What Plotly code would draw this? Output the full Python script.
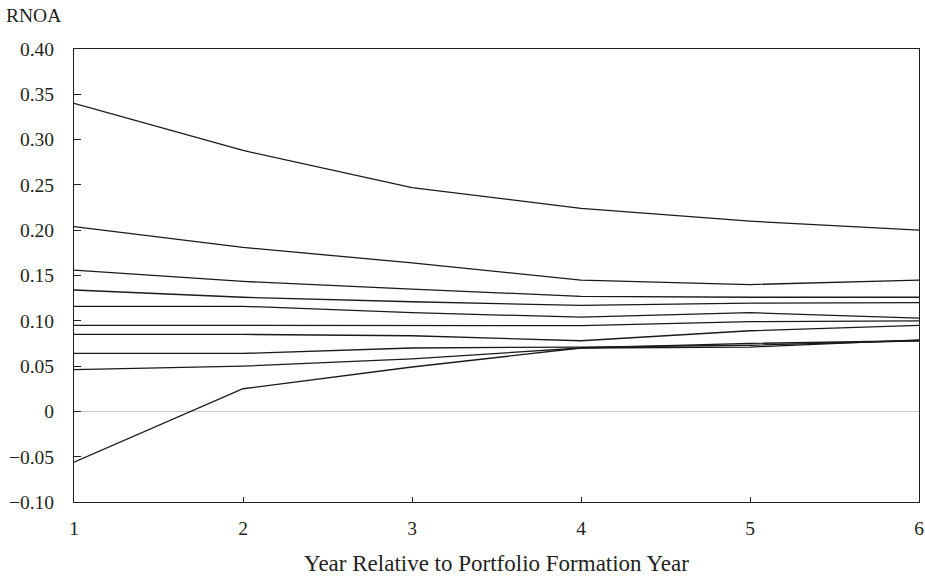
import plotly.graph_objects as go

years = [1, 2, 3, 4, 5, 6]
series = {
    "P10": [0.340, 0.288, 0.247, 0.224, 0.210, 0.200],
    "P9": [0.204, 0.181, 0.164, 0.145, 0.140, 0.145],
    "P8": [0.156, 0.1435, 0.135, 0.127, 0.126, 0.126],
    "P7": [0.134, 0.126, 0.121, 0.117, 0.1195, 0.120],
    "P6": [0.116, 0.116, 0.109, 0.104, 0.109, 0.103],
    "P5": [0.095, 0.095, 0.095, 0.0946, 0.099, 0.100],
    "P4": [0.085, 0.085, 0.0835, 0.078, 0.089, 0.095],
    "P3": [0.064, 0.064, 0.070, 0.071, 0.073, 0.078],
    "P2": [0.046, 0.050, 0.058, 0.070, 0.075, 0.078],
    "P1": [-0.056, 0.025, 0.049, 0.070, 0.071, 0.079],
}
ytick_vals = [0.40, 0.35, 0.30, 0.25, 0.20, 0.15, 0.10, 0.05, 0, -0.05, -0.10]
ytick_text = ["0.40", "0.35", "0.30", "0.25", "0.20", "0.15", "0.10", "0.05", "0", "\u22120.05", "\u22120.10"]

FONT = "Liberation Serif"
fig = go.Figure()
for name, vals in series.items():
    fig.add_trace(go.Scatter(x=years, y=vals, mode="lines", name=name,
                             line=dict(color="#1a1a1a", width=1.3), showlegend=False))

fig.update_layout(
    width=925, height=578,
    margin=dict(l=74, r=6, t=49, b=76),
    paper_bgcolor="white", plot_bgcolor="white",
    font=dict(family=FONT, size=19.5, color="#231f20"),
    xaxis=dict(range=[1, 6], tickvals=years, ticks="inside", ticklen=5, tickcolor="#231f20",
               showline=True, linecolor="#231f20", linewidth=1, mirror=True,
               showgrid=False, zeroline=False, automargin=False,
               ticklabelstandoff=9,
               title=dict(text="Year Relative to Portfolio Formation Year", standoff=16)),
    yaxis=dict(range=[-0.10, 0.40], tickvals=ytick_vals, ticktext=ytick_text,
               ticks="inside", ticklen=7, tickcolor="#231f20",
               showline=True, linecolor="#231f20", linewidth=1, mirror=True,
               showgrid=False, zeroline=True, zerolinecolor="#c8c8c8", zerolinewidth=1,
               automargin=False, ticklabelstandoff=15),
    annotations=[dict(text="RNOA", x=0, y=1, xref="paper", yref="paper",
                      xanchor="left", yanchor="bottom", xshift=-70, yshift=21,
                      showarrow=False, font=dict(family=FONT, size=19.5))],
)
fig.write_html("out.html")
